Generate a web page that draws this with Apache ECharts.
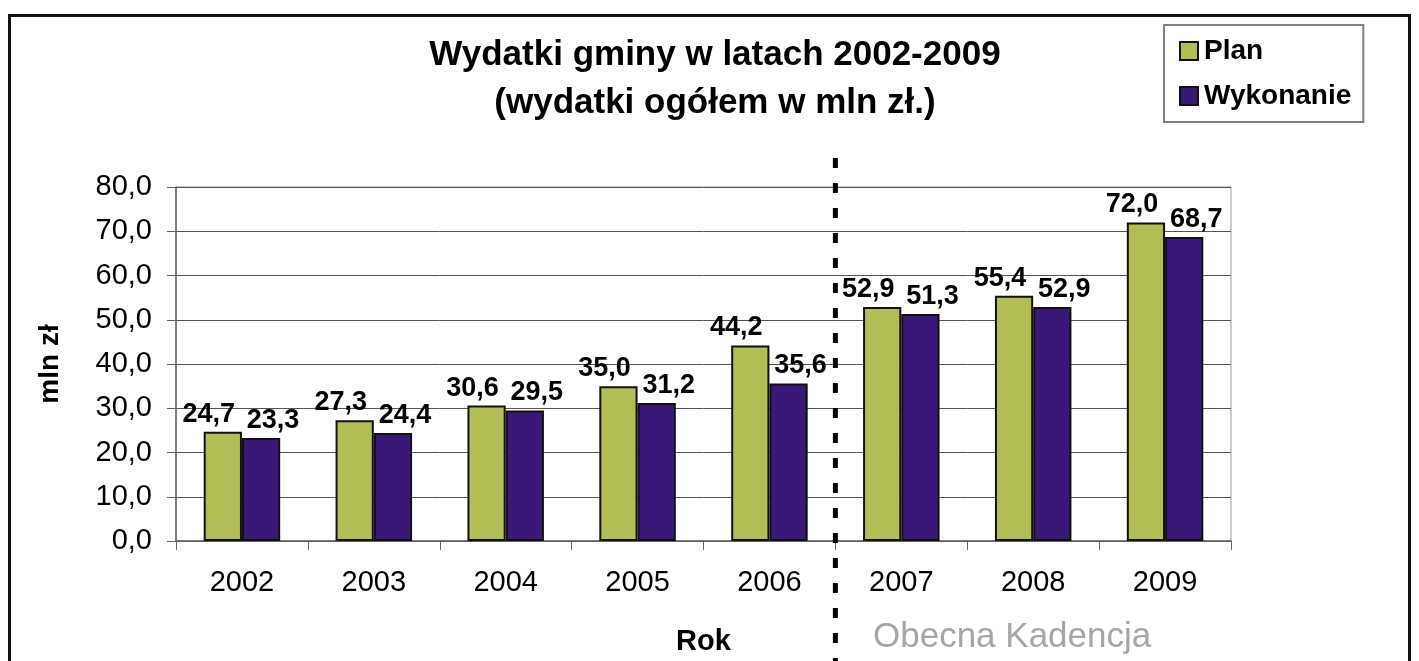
<!DOCTYPE html>
<html>
<head>
<meta charset="utf-8">
<script src="https://cdn.jsdelivr.net/npm/echarts@6/dist/echarts.min.js"></script>
<style>
html,body{margin:0;padding:0;background:#fff;}
#chart{width:1419px;height:661px;}
</style>
</head>
<body>
<div id="chart"></div>
<script>
var categories = ['2002','2003','2004','2005','2006','2007','2008','2009'];
var planValues = [24.7, 27.3, 30.6, 35.0, 44.2, 52.9, 55.4, 72.0];
var wykonanieValues = [23.3, 24.4, 29.5, 31.2, 35.6, 51.3, 52.9, 68.7];
var yTicks = [0, 10, 20, 30, 40, 50, 60, 70, 80];

var FONT = '"Liberation Sans", Arial, sans-serif';
var fmt = function (v) { return Number(v).toFixed(1).replace('.', ','); };

var chart = echarts.init(document.getElementById('chart'));

var labelBase = {
  show: true,
  position: 'top',
  distance: 4,
  fontFamily: FONT,
  fontWeight: 'bold',
  fontSize: 27,
  color: '#000',
  formatter: function (p) { return fmt(p.value); }
};

chart.setOption({
  animation: false,
  backgroundColor: '#fff',
  title: {
    text: 'Wydatki gminy w latach 2002-2009\n(wydatki ogółem w mln zł.)',
    left: 710,
    textAlign: 'center',
    top: 26,
    textStyle: {
      fontFamily: FONT,
      fontWeight: 'bold',
      fontSize: 35,
      lineHeight: 48,
      color: '#000'
    }
  },
  legend: {
    orient: 'vertical',
    left: 1164,
    top: 25,
    padding: [12, 12, 12, 15],
    itemGap: 17,
    itemWidth: 18,
    itemHeight: 18,
    borderColor: '#808080',
    borderWidth: 2,
    icon: 'rect',
    textStyle: {
      fontFamily: FONT,
      fontWeight: 'bold',
      fontSize: 28,
      lineHeight: 27,
      color: '#000',
      padding: [0, 0, 0, 1]
    },
    data: ['Plan', 'Wykonanie']
  },
  grid: {
    left: 176,
    right: 188,
    top: 187,
    bottom: 117,
    show: true,
    borderColor: '#999',
    borderWidth: 1
  },
  xAxis: {
    type: 'category',
    data: categories,
    name: 'Rok',
    nameLocation: 'middle',
    nameGap: 86,
    nameTextStyle: { fontFamily: FONT, fontWeight: 'bold', fontSize: 29, color: '#000' },
    axisLine: { lineStyle: { color: '#666', width: 1.5 } },
    axisTick: { show: true, length: 9, alignWithLabel: false, lineStyle: { color: '#666' } },
    axisLabel: { fontFamily: FONT, fontSize: 29, color: '#000', margin: 27 }
  },
  yAxis: {
    type: 'value',
    min: yTicks[0],
    max: yTicks[yTicks.length - 1],
    interval: 10,
    name: 'mln zł',
    nameLocation: 'middle',
    nameGap: 112,
    nameTextStyle: { fontFamily: FONT, fontWeight: 'bold', fontSize: 28, color: '#000' },
    axisLine: { show: true, lineStyle: { color: '#666', width: 1.5 } },
    axisTick: { show: true, inside: false, length: 9, lineStyle: { color: '#666' } },
    axisLabel: {
      fontFamily: FONT, fontSize: 29, color: '#000', margin: 24,
      formatter: function (v) { return fmt(v); }
    },
    splitLine: { show: true, lineStyle: { color: '#555', width: 1 } }
  },
  series: [
    {
      name: 'Plan',
      type: 'bar',
      data: planValues,
      barGap: '0%',
      barCategoryGap: '42%',
      itemStyle: { color: '#B2BE55', borderColor: '#111', borderWidth: 2 },
      label: Object.assign({}, labelBase, { offset: [-14, 0] })
    },
    {
      name: 'Wykonanie',
      type: 'bar',
      data: wykonanieValues,
      barGap: '0%',
      barCategoryGap: '42%',
      itemStyle: { color: '#3A1877', borderColor: '#111', borderWidth: 2 },
      label: Object.assign({}, labelBase, { offset: [12, 0] })
    }
  ]
});

function drawOverlay() {
  var x6 = chart.convertToPixel({ xAxisIndex: 0 }, categories[4]);
  var x7 = chart.convertToPixel({ xAxisIndex: 0 }, categories[5]);
  var xs = (x6 + x7) / 2;
  chart.setOption({
    graphic: [
      {
        type: 'polyline',
        shape: { points: [[9.5, 661], [9.5, 15.5], [1409.5, 15.5], [1409.5, 661]] },
        style: { stroke: '#111', lineWidth: 3, fill: null },
        silent: true
      },
      {
        type: 'line',
        shape: { x1: xs, y1: 158, x2: xs, y2: 661 },
        style: { stroke: '#000', lineWidth: 5, lineDash: [10, 15] },
        silent: true,
        z: 100
      },
      {
        type: 'text',
        left: 873,
        top: 620,
        style: {
          text: 'Obecna Kadencja',
          font: '35px "Liberation Sans", Arial, sans-serif',
          fill: '#A6A6A6'
        },
        silent: true
      }
    ]
  });
}
drawOverlay();
</script>
</body>
</html>
